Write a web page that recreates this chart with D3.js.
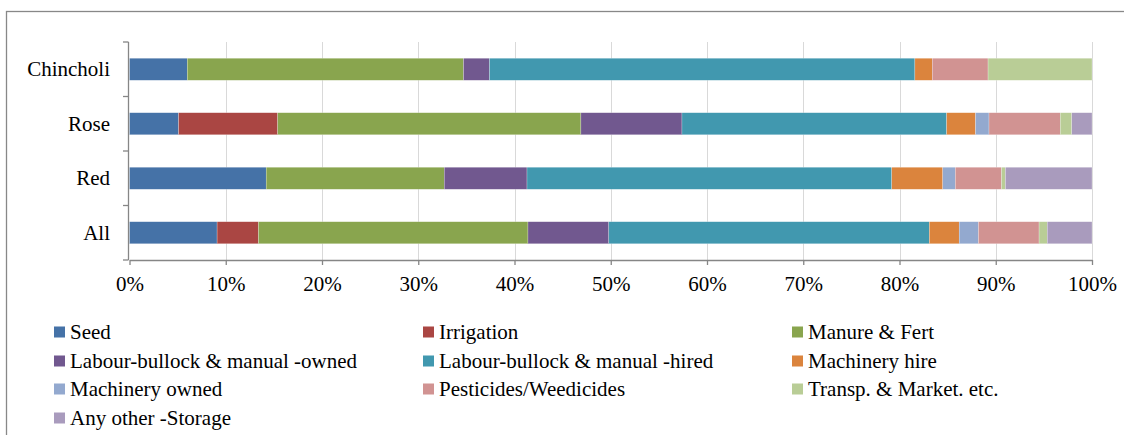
<!DOCTYPE html>
<html>
<head>
<meta charset="utf-8">
<script src="https://cdn.jsdelivr.net/npm/d3@7"></script>
<style>
  html, body { margin: 0; padding: 0; background: #fff; }
  svg { display: block; }
  svg text { font-family: "Liberation Serif", Tinos, "Times New Roman", Times, "DejaVu Serif", serif !important; fill: #000; }
</style>
</head>
<body>
<svg id="chart" width="1124" height="435"></svg>
<script>
const categories = ["Chincholi", "Rose", "Red", "All"];
const seriesNames = [
  "Seed", "Irrigation", "Manure & Fert",
  "Labour-bullock & manual -owned", "Labour-bullock & manual -hired", "Machinery hire",
  "Machinery owned", "Pesticides/Weedicides", "Transp. & Market. etc.",
  "Any other -Storage"
];
const seriesColors = ["#4572a7", "#aa4643", "#89a54e", "#71588f", "#4198af", "#db843d", "#93a9cf", "#d19392", "#b9cd96", "#a99bbd"];
// percent shares per category, in order of seriesNames
const chincholi = [6.0, 0, 28.7, 2.7, 44.2, 1.8, 0, 5.8, 10.8, 0];
const rose      = [5.1, 10.3, 31.5, 10.5, 27.5, 3.0, 1.4, 7.4, 1.2, 2.1];
const red       = [14.2, 0, 18.5, 8.6, 37.9, 5.3, 1.3, 4.8, 0.4, 9.0];
const all       = [9.1, 4.3, 28.0, 8.4, 33.3, 3.1, 2.0, 6.3, 0.85, 4.65];
const tickValues = [0, 0.1, 0.2, 0.3, 0.4, 0.5, 0.6, 0.7, 0.8, 0.9, 1.0];

const values = [chincholi, rose, red, all];
const table = categories.map((c, i) => {
  const row = { category: c };
  const total = d3.sum(values[i]);
  seriesNames.forEach((s, j) => row[s] = values[i][j] / total);
  return row;
});

const FONT = '"Liberation Serif", Tinos, "Times New Roman", Times, serif';
const svg = d3.select("#chart");
const plotLeft = 129.5, plotRight = 1092, plotTop = 42, plotBottom = 260;

// outer border
svg.append("rect").attr("x", 6.5).attr("y", 11.5).attr("width", 1140).attr("height", 500)
  .attr("fill", "none").attr("stroke", "#888").attr("stroke-width", 1.3);

const x = d3.scaleLinear().domain([0, 1]).range([plotLeft, plotRight]);
const y = d3.scaleBand().domain(categories).range([plotTop, plotBottom]).paddingInner(0.595).paddingOuter(0.2975);

// gridlines
svg.append("g").selectAll("line").data(tickValues.slice(1)).join("line")
  .attr("x1", d => Math.round(x(d)) + 0.5).attr("x2", d => Math.round(x(d)) + 0.5)
  .attr("y1", plotTop).attr("y2", plotBottom)
  .attr("stroke", "#d9d9d9").attr("stroke-width", 1);

const stack = d3.stack().keys(seriesNames)(table);
svg.append("g").selectAll("g").data(stack).join("g")
  .attr("fill", (d, i) => seriesColors[i])
  .selectAll("rect").data(d => d).join("rect")
  .attr("x", d => x(d[0]))
  .attr("width", d => Math.max(0, x(d[1]) - x(d[0])))
  .attr("y", d => y(d.data.category))
  .attr("height", y.bandwidth())
  .attr("stroke", d => (d[1] - d[0]) > 0 ? "#fff" : "none")
  .attr("stroke-width", 0.4)
  .attr("stroke-opacity", 0.6);

// x axis
const xAxis = svg.append("g").attr("transform", `translate(0,${plotBottom})`)
  .call(d3.axisBottom(x).tickValues(tickValues).tickFormat(d3.format(".0%")).tickSize(5).tickSizeOuter(0));
xAxis.attr("font-family", FONT).attr("font-size", 21);
xAxis.select(".domain").attr("stroke", "#868686").attr("stroke-width", 1.3);
xAxis.selectAll(".tick line").attr("stroke", "#868686").attr("stroke-width", 1.3);
xAxis.selectAll(".tick text").attr("dy", null).attr("y", 31).attr("fill", "#000");

// y axis (tick lines at band boundaries)
const yAxisG = svg.append("g").attr("font-family", FONT).attr("font-size", 21);
yAxisG.append("line").attr("x1", 128.5).attr("x2", 128.5).attr("y1", plotTop).attr("y2", plotBottom)
  .attr("stroke", "#868686").attr("stroke-width", 1.3);
const step = (plotBottom - plotTop) / categories.length;
yAxisG.selectAll("line.t").data(d3.range(categories.length + 1)).join("line").attr("class", "t")
  .attr("x1", 123).attr("x2", 128.5)
  .attr("y1", i => plotTop + i * step).attr("y2", i => plotTop + i * step)
  .attr("stroke", "#868686").attr("stroke-width", 1.3);
yAxisG.selectAll("text").data(categories).join("text")
  .attr("x", 110).attr("y", d => y(d) + y.bandwidth() / 2 + 7)
  .attr("text-anchor", "end")
  .text(d => d);

// legend
const legend = svg.append("g").attr("font-family", FONT).attr("font-size", 21);
const colX = [54, 423, 792];
const rowY = [332, 361, 389, 418];
seriesNames.forEach((s, i) => {
  const cx = colX[i % 3], cy = rowY[Math.floor(i / 3)];
  legend.append("rect").attr("x", cx).attr("y", cy - 5.5).attr("width", 11).attr("height", 11)
    .attr("fill", seriesColors[i]);
  legend.append("text").attr("x", cx + 16).attr("y", cy + 7)
    .text(s);
});
</script>
</body>
</html>
